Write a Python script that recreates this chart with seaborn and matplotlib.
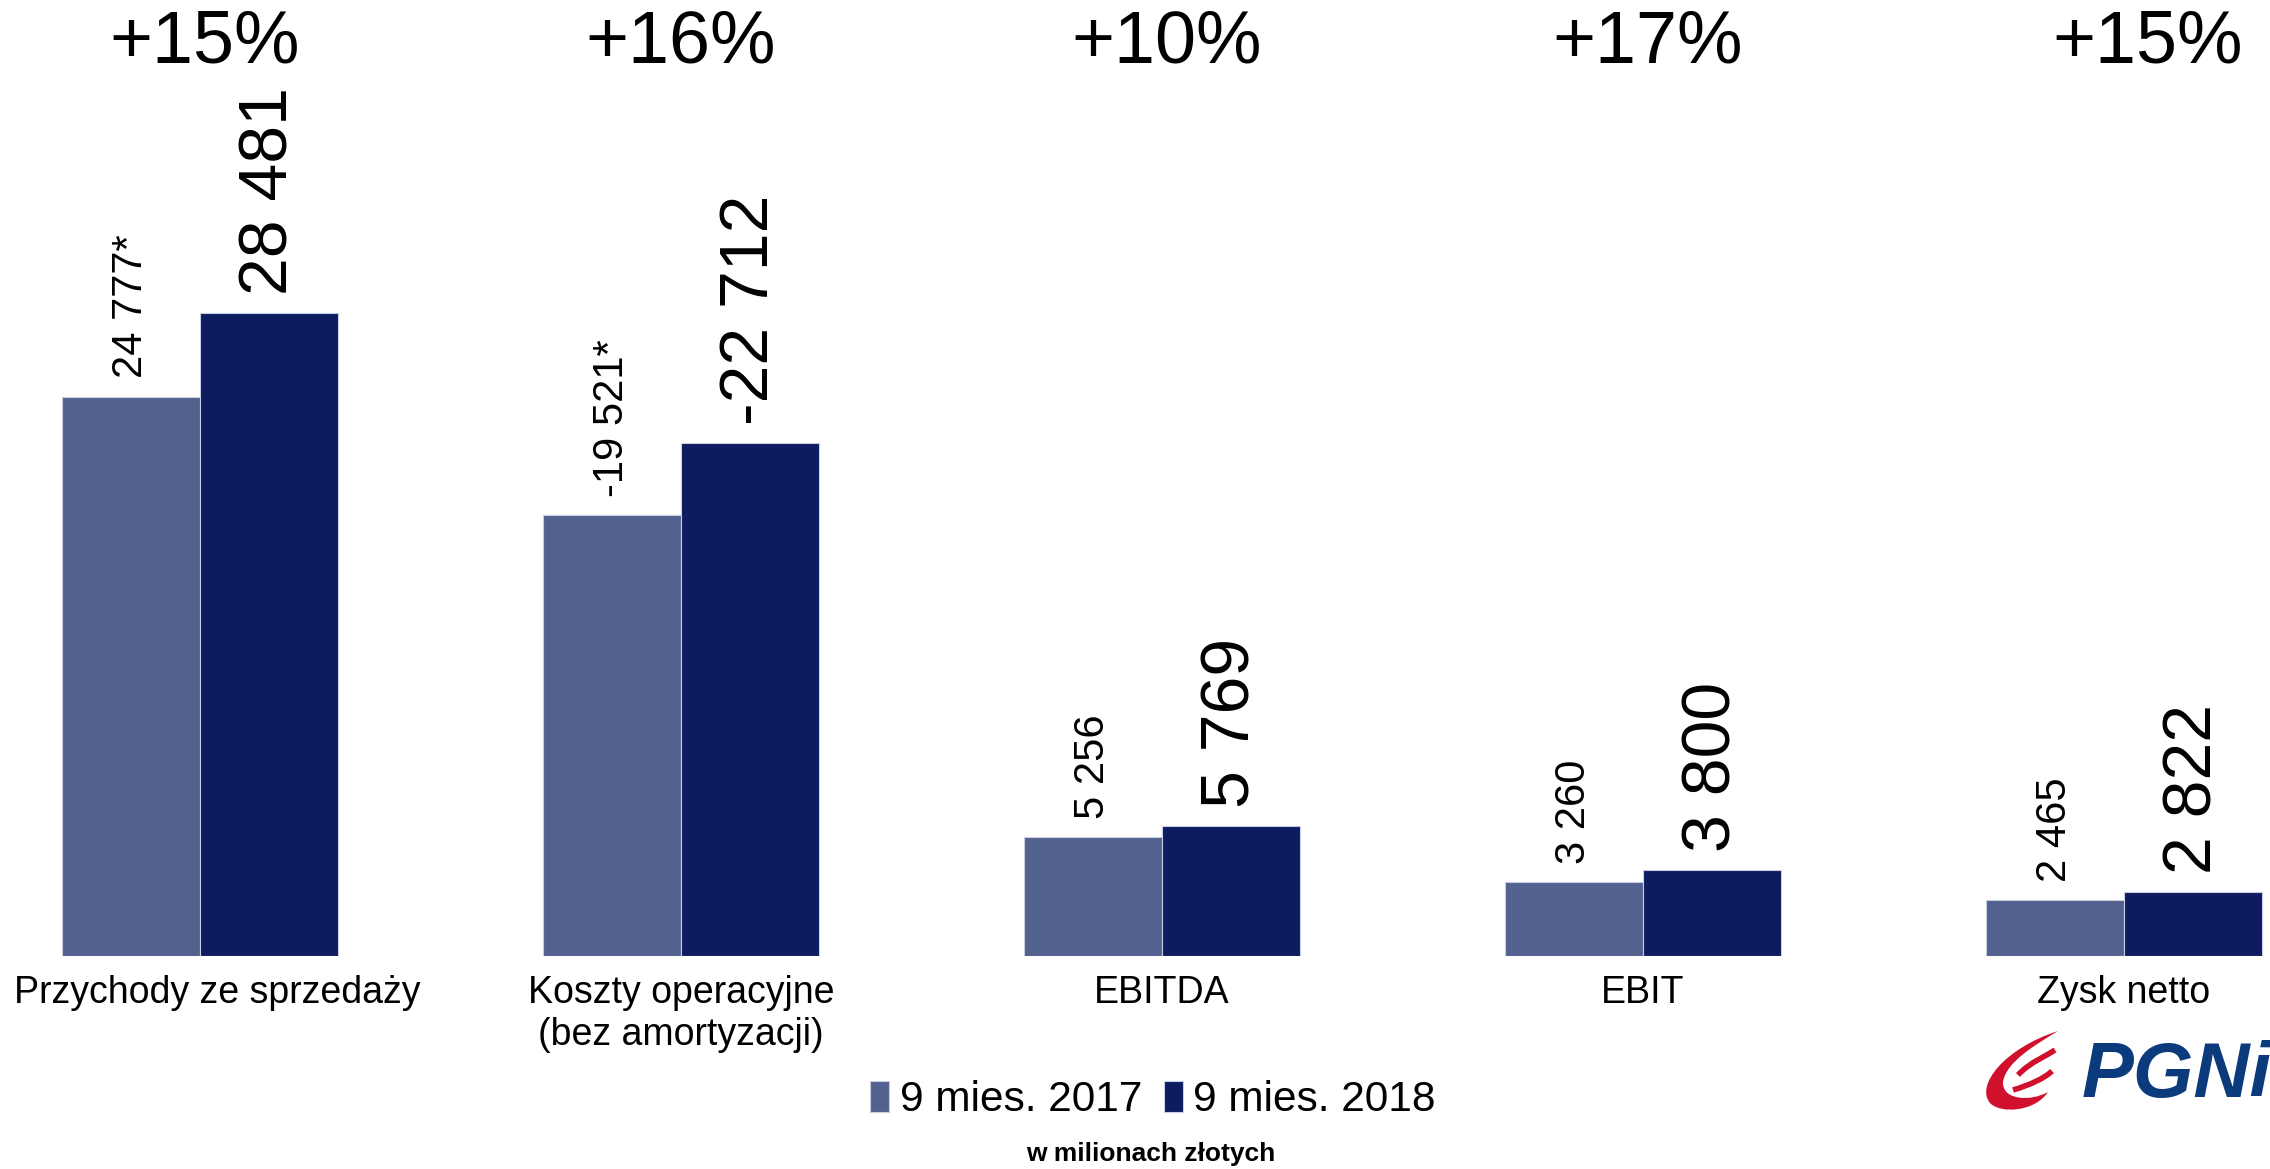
import numpy as np
import pandas as pd
import seaborn as sns
import matplotlib.pyplot as plt
import matplotlib.transforms as mtransforms
from matplotlib.path import Path
from matplotlib.patches import PathPatch

# data (million PLN), costs plotted by magnitude
categories = ['Przychody ze sprzedaży', 'Koszty operacyjne\n(bez amortyzacji)',
              'EBITDA', 'EBIT', 'Zysk netto']
periods = ['9 mies. 2017', '9 mies. 2018']
values_2017 = [24777, -19521, 5256, 3260, 2465]
values_2018 = [28481, -22712, 5769, 3800, 2822]
labels_2017 = ['24 777*', '-19 521*', '5 256', '3 260', '2 465']
labels_2018 = ['28 481', '-22 712', '5 769', '3 800', '2 822']
changes = ['+15%', '+16%', '+10%', '+17%', '+15%']

colors = ['#53618f', '#0c1c5f']

df = pd.DataFrame({
    'category': categories * 2,
    'period': [periods[0]] * 5 + [periods[1]] * 5,
    'value': np.abs(values_2017 + values_2018),
})

sns.set_style('white')
plt.rcParams['font.family'] = ['Liberation Sans', 'DejaVu Sans']
plt.rcParams['text.color'] = 'black'
plt.rcParams['xtick.color'] = 'black'

W, H = 2270, 1169
fig = plt.figure(figsize=(W / 100, H / 100), dpi=100)
base = 956
ax = fig.add_axes([0, 1 - base / H, 1, base / H])

sns.barplot(data=df, x='category', y='value', hue='period', palette=colors,
            width=0.574, edgecolor='#c8cde0', linewidth=0.8, saturation=1,
            ax=ax)

ax.set_xlim(-200 / 481, (W - 200) / 481)
ax.set_ylim(0, base / 0.02258)
ax.set_xlabel('')
ax.set_ylabel('')
ax.set_yticks([])
sns.despine(ax=ax, left=True, bottom=True)
ax.tick_params(axis='x', length=0, pad=14, labelsize=27, labelcolor='black')

# first label sits a bit right of its group on the slide
first = ax.get_xticklabels()[0]
first.set_transform(first.get_transform() +
                    mtransforms.ScaledTranslation(0.17, 0, fig.dpi_scale_trans))

# value labels above bars
ax.bar_label(ax.containers[0], labels=labels_2017, rotation=90,
             padding=13, fontsize=30, color='black')
ax.bar_label(ax.containers[1], labels=labels_2018, rotation=90,
             padding=13, fontsize=49, color='black')

# change percentages on top
trans = mtransforms.blended_transform_factory(ax.transData, fig.transFigure)
shift = [0.01, 0.0, 0.01, 0.01, 0.05]
for i, ch in enumerate(changes):
    ax.text(i + shift[i], 1 - 43 / H, ch, transform=trans, ha='center',
            va='center', fontsize=53, clip_on=False)

# legend
handles, lbls = ax.get_legend_handles_labels()
ax.legend_.remove()
fig.legend(handles, lbls, loc='center', bbox_to_anchor=(1153 / W, 1 - 1100 / H),
           ncol=2, frameon=False, fontsize=30.5, handlelength=0.45,
           handleheight=0.75, handletextpad=0.25, columnspacing=0.5)

fig.text(1151 / W, 1 - 1154 / H, 'w milionach złotych', ha='center',
         va='center', fontsize=19, fontweight='bold')

# PGNiG logo (rough)
fig.text(2082 / W, 1 - 1076 / H, 'PGNiG', ha='left', va='center',
         fontsize=56, fontweight='bold', fontstyle='italic', color='#0b3b7c')


def to_fig(pts):
    return [(x / W, 1 - y / H) for x, y in pts]


red = '#d0102c'
C4 = Path.CURVE4
outer = to_fig([(2058, 1031), (2005, 1048), (1975, 1085), (1990, 1103),
                (2000, 1114), (2035, 1112), (2048, 1092),
                (2030, 1102), (2002, 1100), (2003, 1082),
                (2006, 1062), (2035, 1045), (2058, 1031)])
codes = [Path.MOVETO, C4, C4, C4, C4, C4, C4, C4, C4, C4, C4, C4, C4]
fig.patches.append(PathPatch(Path(outer, codes), facecolor=red,
                             edgecolor='none', transform=fig.transFigure))
for pts in ([(2013, 1090), (2030, 1085), (2045, 1078), (2052, 1071)],
            [(2018, 1075), (2030, 1062), (2048, 1055), (2055, 1050)]):
    fig.patches.append(PathPatch(Path(to_fig(pts), [Path.MOVETO, C4, C4, C4]),
                                 facecolor='none', edgecolor=red, lw=4,
                                 transform=fig.transFigure))

fig.savefig('out.png', dpi=100)
